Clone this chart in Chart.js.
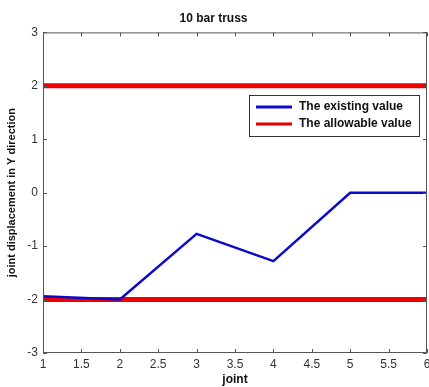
<!DOCTYPE html>
<html><head><meta charset="utf-8">
<script src="https://cdn.jsdelivr.net/npm/chart.js@4/dist/chart.umd.min.js"></script>
<style>html,body{margin:0;padding:0;background:#fff;}canvas{display:block;}</style>
</head><body>
<canvas id="c" width="429" height="387"></canvas>
<script>
const joints = [1, 2, 3, 4, 5, 6];
const existingValue = [-1.94, -2.0, -0.77, -1.28, 0.0, 0.0];
const allowableUpper = [2, 2];
const allowableLower = [-2, -2];
const allowableX = [1, 6];
const xTicks = [1, 1.5, 2, 2.5, 3, 3.5, 4, 4.5, 5, 5.5, 6];
const yTicks = [-3, -2, -1, 0, 1, 2, 3];
const seriesNames = ['The existing value', 'The allowable value'];

const FONT = '"Liberation Sans", Arial, sans-serif';

const boxPlugin = {
  id: 'box',
  afterDraw(chart) {
    const ctx = chart.ctx, a = chart.chartArea;
    const xs = chart.scales.x, ys = chart.scales.y;
    ctx.save();
    ctx.strokeStyle = '#555';
    ctx.lineWidth = 1;
    ctx.beginPath();
    ctx.rect(a.left + 0.5, a.top + 0.5, a.right - a.left - 1, a.bottom - a.top - 1);
    ctx.stroke();
    ctx.beginPath();
    xTicks.forEach(v => {
      const px = Math.round(xs.getPixelForValue(v)) + 0.5;
      ctx.moveTo(px, a.bottom); ctx.lineTo(px, a.bottom - 4);
      ctx.moveTo(px, a.top); ctx.lineTo(px, a.top + 4);
    });
    yTicks.forEach(v => {
      const py = Math.round(ys.getPixelForValue(v)) + 0.5;
      ctx.moveTo(a.left, py); ctx.lineTo(a.left + 4, py);
      ctx.moveTo(a.right, py); ctx.lineTo(a.right - 4, py);
    });
    ctx.stroke();
    // legend
    const lx = 249, ly = 95, lw = 170, lh = 41;
    ctx.fillStyle = '#fff';
    ctx.fillRect(lx, ly, lw, lh);
    ctx.strokeStyle = '#333';
    ctx.strokeRect(lx + 0.5, ly + 0.5, lw, lh);
    const colors = ['#0a0ac8', '#e00000'];
    ctx.font = 'bold 12px ' + FONT;
    ctx.textBaseline = 'middle';
    ctx.textAlign = 'left';
    seriesNames.forEach((n, i) => {
      const y = ly + 12 + i * 17;
      ctx.strokeStyle = colors[i];
      ctx.lineWidth = 3;
      ctx.beginPath(); ctx.moveTo(lx + 7, y); ctx.lineTo(lx + 43, y); ctx.stroke();
      ctx.fillStyle = '#111';
      ctx.fillText(n, lx + 50, y);
    });
    ctx.restore();
  }
};

new Chart(document.getElementById('c'), {
  type: 'line',
  data: {
    datasets: [
      { label: seriesNames[0], data: joints.map((x, i) => ({x, y: existingValue[i]})), borderColor: '#0a0ac8', borderWidth: 2.5, pointRadius: 0, tension: 0, order: 0 },
      { label: seriesNames[1], data: allowableX.map((x, i) => ({x, y: allowableUpper[i]})), borderColor: '#ee0000', borderWidth: 5, pointRadius: 0, order: 1 },
      { label: seriesNames[1] + ' ', data: allowableX.map((x, i) => ({x, y: allowableLower[i]})), borderColor: '#ee0000', borderWidth: 5, pointRadius: 0, order: 1 }
    ]
  },
  options: {
    responsive: false,
    animation: false,
    layout: { padding: { left: 0, right: 2, top: 0, bottom: 0 } },
    plugins: {
      legend: { display: false },
      tooltip: { enabled: false },
      title: { display: true, text: '10 bar truss', color: '#111', font: { family: FONT, size: 12, weight: 'bold' }, padding: { top: 11, bottom: 7 } }
    },
    scales: {
      x: {
        type: 'linear', min: 1, max: 6,
        afterBuildTicks(s) { s.ticks = xTicks.map(v => ({value: v})); },
        afterFit(s) { s.height = 34; s.paddingRight = 0; s.paddingLeft = 0; },
        grid: { display: false, drawTicks: false },
        border: { display: false },
        ticks: { color: '#333', font: { family: FONT, size: 12 }, padding: 4, maxRotation: 0, autoSkip: false, callback: v => String(v) },
        title: { display: true, text: 'joint', color: '#111', font: { family: FONT, size: 12, weight: 'bold' }, padding: { top: 0, bottom: 0 } }
      },
      y: {
        type: 'linear', min: -3, max: 3,
        afterBuildTicks(s) { s.ticks = yTicks.map(v => ({value: v})); },
        afterFit(s) { s.width = 43; s.paddingTop = 0; s.paddingBottom = 0; },
        grid: { display: false, drawTicks: false },
        border: { display: false },
        ticks: { color: '#333', font: { family: FONT, size: 12 }, padding: 5, callback: v => String(v) },
        title: { display: true, text: 'joint displacement in Y direction', color: '#111', font: { family: FONT, size: 11, weight: 'bold' }, padding: { top: 5, bottom: 0 } }
      }
    }
  },
  plugins: [boxPlugin]
});
</script>
</body></html>
